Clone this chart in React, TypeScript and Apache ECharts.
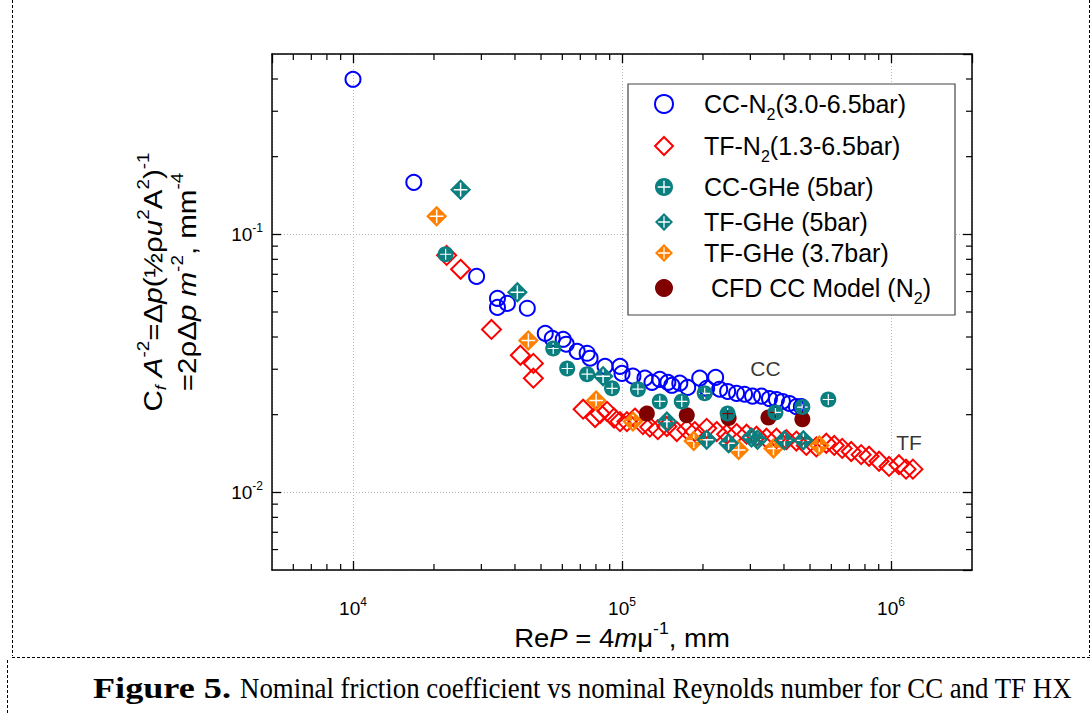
import React, { useEffect, useRef } from 'react';
import * as echarts from 'echarts';

// ---------- axis ranges / ticks ----------
const X_MIN = 5000;
const X_MAX = 2e6;
const Y_MIN = 0.005;
const Y_MAX = 0.5;
const X_MINOR = [6e3, 7e3, 8e3, 9e3, 2e4, 3e4, 4e4, 5e4, 6e4, 7e4, 8e4, 9e4, 2e5, 3e5, 4e5, 5e5, 6e5, 7e5, 8e5, 9e5];
const Y_MINOR = [0.006, 0.007, 0.008, 0.009, 0.02, 0.03, 0.04, 0.05, 0.06, 0.07, 0.08, 0.09, 0.2, 0.3, 0.4];

// ---------- series data [ReP, Cf A^-2] ----------
const CC_N2: number[][] = [
  [10000, 0.399], [16830, 0.159], [28800, 0.0687], [34440, 0.0565], [34440, 0.0521], [37500, 0.054],
  [44460, 0.0517], [51850, 0.0413], [55050, 0.0395], [60460, 0.0392], [62030, 0.0375], [68130, 0.0352],
  [74200, 0.0346], [76100, 0.0331], [86500, 0.0308], [98300, 0.0308], [100000, 0.0289], [109800, 0.0282],
  [121700, 0.0277], [129200, 0.0267], [138200, 0.0274], [148100, 0.0267], [153200, 0.026], [164000, 0.0265],
  [175500, 0.0255], [194500, 0.0277], [222900, 0.0279], [206400, 0.0253], [230700, 0.0251], [247000, 0.0246],
  [266600, 0.0242], [285500, 0.024], [305700, 0.0236], [330000, 0.0236], [353300, 0.0231], [375100, 0.0229],
  [394800, 0.0225], [419000, 0.0221], [444800, 0.0215], [464200, 0.0215],
];
const TF_N2: number[][] = [
  [22290, 0.0829], [25120, 0.0732], [32720, 0.0428], [41900, 0.034], [46820, 0.0316], [46820, 0.0277],
  [71710, 0.021], [79430, 0.0195], [82880, 0.0202], [88000, 0.0206], [93400, 0.0194], [98300, 0.0188],
  [104300, 0.0188], [111700, 0.0194], [119600, 0.0183], [126900, 0.0179], [135900, 0.0175], [146800, 0.018],
  [159800, 0.0172], [174100, 0.0175], [186400, 0.0172], [206400, 0.0177], [224900, 0.0172], [244900, 0.0168],
  [266600, 0.0169], [290400, 0.0168], [316200, 0.0165], [344400, 0.0162], [375100, 0.0162], [408500, 0.016],
  [444800, 0.0158], [484400, 0.0152], [527700, 0.015], [574500, 0.0155], [615100, 0.0152], [658400, 0.0148],
  [711100, 0.0144], [774400, 0.014], [828800, 0.0138], [902700, 0.0132], [983100, 0.0126], [1070000, 0.0128],
  [1137000, 0.0123], [1206000, 0.0123],
];
const CC_GHE: number[][] = [
  [22100, 0.0837], [55510, 0.0361], [62570, 0.0302], [74200, 0.0287], [91830, 0.0253], [114600, 0.0251],
  [138200, 0.0225], [166800, 0.0225], [203000, 0.0242], [247000, 0.0202], [371900, 0.0204], [468200, 0.0214],
  [584600, 0.0229],
];
const TF_GHE_5: number[][] = [
  [25120, 0.149], [40830, 0.0596], [85040, 0.0282], [146800, 0.0188], [206400, 0.016], [249100, 0.0155],
  [303000, 0.0163], [318900, 0.016], [401500, 0.0159], [472200, 0.0159],
];
const TF_GHE_37: number[][] = [
  [20470, 0.1174], [44860, 0.0388], [80120, 0.0227], [109800, 0.0188], [184800, 0.0158], [271300, 0.0146],
  [365600, 0.0148], [541200, 0.0152],
];
const CFD_CC: number[][] = [
  [123700, 0.0202], [174100, 0.0199], [249100, 0.0194], [350300, 0.0195], [468200, 0.0192],
];
const ANNOTATIONS = [
  { name: 'CC', value: [341600, 0.0302] },
  { name: 'TF', value: [1166000, 0.01563] },
];

const NAMES = ['CC-N2(3.0-6.5bar)', 'TF-N2(1.3-6.5bar)', 'CC-GHe (5bar)', 'TF-GHe (5bar)', 'TF-GHe (3.7bar)', 'CFD CC Model (N2)'];
const LEGEND_RICH: Record<string, string> = {
  'CC-N2(3.0-6.5bar)': '{n|CC-N}{sub|2}{n|(3.0-6.5bar)}',
  'TF-N2(1.3-6.5bar)': '{n|TF-N}{sub|2}{n|(1.3-6.5bar)}',
  'CC-GHe (5bar)': '{n|CC-GHe (5bar)}',
  'TF-GHe (5bar)': '{n|TF-GHe (5bar)}',
  'TF-GHe (3.7bar)': '{n|TF-GHe (3.7bar)}',
  'CFD CC Model (N2)': '{n| CFD CC Model (N}{sub|2}{n|)}',
};
const LEGEND_ROW_H = [42, 42, 40, 30, 32, 38];

const SANS = '"Liberation Sans", Arial, sans-serif';
const SERIF = '"Liberation Serif", "Times New Roman", serif';

const DIAMOND = 'path://M0,-10L10,0L0,10L-10,0Z';
const CIRCLE_PLUS =
  'path://M0,-10C5.523,-10,10,-5.523,10,0C10,5.523,5.523,10,0,10C-5.523,10,-10,5.523,-10,0C-10,-5.523,-5.523,-10,0,-10Z' +
  'M-0.75,-7L-0.75,-0.75L-7,-0.75L-7,0.75L-0.75,0.75L-0.75,7L0.75,7L0.75,0.75L7,0.75L7,-0.75L0.75,-0.75L0.75,-7Z';
const DIAMOND_PLUS =
  'path://M0,-10L10,0L0,10L-10,0Z' +
  'M-0.7,-6.5L-0.7,-0.7L-6.5,-0.7L-6.5,0.7L-0.7,0.7L-0.7,6.5L0.7,6.5L0.7,0.7L6.5,0.7L6.5,-0.7L0.7,-0.7L0.7,-6.5Z';

function measure(text: string, font: string): number {
  const c = document.createElement('canvas').getContext('2d');
  if (!c) return text.length * 12;
  c.font = font;
  return c.measureText(text).width;
}

export default function App() {
  const ref = useRef<HTMLDivElement>(null);
  useEffect(() => {
    if (!ref.current) return;
    const chart = echarts.init(ref.current, null, { renderer: 'svg' });

    const tickRich = {
      b: { fontSize: 19, fontFamily: SANS, color: '#000' },
      s: { fontSize: 12, fontFamily: SANS, color: '#000', padding: [0, 0, 12, 0] },
    };
    const expFmt = (v: number) => `{b|10}{s|${Math.round(Math.log10(v))}}`;
    const axisLineStyle = { color: '#000', width: 1.5 };
    const splitLineStyle = { color: '#b8b8b8', width: 1, type: [1, 2] as any };

    const capBold = 'Figure 5.';
    const capReg = 'Nominal friction coefficient vs nominal Reynolds number for CC and TF HX';
    const capSize = 30;
    const wBold = measure(capBold, `bold ${capSize}px "Liberation Serif"`);
    const wReg = measure(capReg, `${capSize}px "Liberation Serif"`);
    const boldScale = wBold > 0 ? 138 / wBold : 1;
    const regScale = wReg > 0 ? 832 / wReg : 1;

    const yTitle =
      '{n|C}{subi|f}{n| }{i|A}{sup|-2}{n|=Δ}{i|p}{n|(½ρ}{i|u}{sup|2}{n|A}{sup|2}{n|)}{sup|-1}' +
      '\n' +
      '{n|=2ρΔ}{i|p}{n| }{i|m}{sup|-2}{n|, mm}{sup|-4}';
    const titleRich = {
      n: { fontSize: 25, fontFamily: SANS, color: '#000' },
      i: { fontSize: 25, fontFamily: SANS, fontStyle: 'italic', color: '#000' },
      sup: { fontSize: 16, fontFamily: SANS, color: '#000', padding: [0, 0, 18, 0] },
      subi: { fontSize: 15, fontFamily: SANS, fontStyle: 'italic', color: '#000', padding: [16, 0, 0, 0] },
    };
    const xTitle = '{n|Re}{i|P}{n| = 4}{i|m}{n|μ}{sup|-1}{n|, mm}';
    const xTitleRich = {
      n: { fontSize: 25, fontFamily: SANS, color: '#000' },
      i: { fontSize: 25, fontFamily: SANS, fontStyle: 'italic', color: '#000' },
      sup: { fontSize: 16, fontFamily: SANS, color: '#000', padding: [0, 0, 18, 0] },
    };

    const dashStyle = { stroke: '#000', lineWidth: 1, lineDash: [3, 2] };
    const tickStyle = { color: '#000', width: 1.3 };

    const option: any = {
      animation: false,
      backgroundColor: '#fff',
      grid: { left: 272, top: 54, right: 120, bottom: 143, containLabel: false },
      xAxis: [
        {
          type: 'log', logBase: 10, min: X_MIN, max: X_MAX, position: 'bottom',
          axisLine: { show: true, lineStyle: axisLineStyle },
          axisTick: { show: true, inside: true, length: 9, lineStyle: tickStyle },
          minorTick: { show: false },
          splitLine: { show: true, lineStyle: splitLineStyle },
          axisLabel: { show: true, margin: 26, showMinLabel: false, showMaxLabel: false, formatter: expFmt, rich: tickRich },
        },
        {
          type: 'log', logBase: 10, min: X_MIN, max: X_MAX, position: 'top',
          axisLine: { show: true, lineStyle: axisLineStyle },
          axisTick: { show: true, inside: true, length: 9, lineStyle: tickStyle },
          splitLine: { show: false }, axisLabel: { show: false },
        },
      ],
      yAxis: [
        {
          type: 'log', logBase: 10, min: Y_MIN, max: Y_MAX, position: 'left',
          axisLine: { show: true, lineStyle: axisLineStyle },
          axisTick: { show: true, inside: true, length: 9, lineStyle: tickStyle },
          splitLine: { show: true, lineStyle: splitLineStyle },
          axisLabel: { show: true, margin: 9, showMinLabel: false, showMaxLabel: false, formatter: expFmt, rich: tickRich },
        },
        {
          type: 'log', logBase: 10, min: Y_MIN, max: Y_MAX, position: 'right',
          axisLine: { show: true, lineStyle: axisLineStyle },
          axisTick: { show: true, inside: true, length: 9, lineStyle: tickStyle },
          splitLine: { show: false }, axisLabel: { show: false },
        },
      ],
      legend: {
        show: true, orient: 'vertical', left: 654, top: 83, padding: 0, itemGap: 0,
        itemWidth: 70, itemHeight: 18, z: 10, symbolKeepAspect: true,
        selectedMode: false,
        data: NAMES.map((name, i) => ({ name, textStyle: { lineHeight: LEGEND_ROW_H[i] } })),
        formatter: (name: string) => LEGEND_RICH[name] || name,
        textStyle: {
          fontSize: 25, fontFamily: SANS, color: '#000',
          rich: {
            n: { fontSize: 25, fontFamily: SANS, color: '#000' },
            sub: { fontSize: 16, fontFamily: SANS, color: '#000', padding: [21, 0, 0, 0] },
          },
        },
      },
      graphic: [
        { type: 'rect', z: 8, shape: { x: 628, y: 84, width: 327, height: 231 }, style: { fill: '#fff', stroke: '#444', lineWidth: 1.2 } },
        {
          type: 'text', x: 170, y: 282, rotation: Math.PI / 2, scaleX: 1.18, z: 10,
          style: { text: yTitle, rich: titleRich, align: 'center', verticalAlign: 'middle', fontSize: 25, fontFamily: SANS, lineHeight: 34, fill: '#000' },
        },
        {
          type: 'text', x: 622, y: 638, scaleX: 1.1, z: 10,
          style: { text: xTitle, rich: xTitleRich, align: 'center', verticalAlign: 'middle', fontSize: 25, fontFamily: SANS, fill: '#000' },
        },
        {
          type: 'text', x: 93, y: 688, scaleX: boldScale, z: 10,
          style: { text: capBold, align: 'left', verticalAlign: 'middle', fontSize: capSize, fontWeight: 'bold', fontFamily: SERIF, fill: '#000' },
        },
        {
          type: 'text', x: 240, y: 688, scaleX: regScale, z: 10,
          style: { text: capReg, align: 'left', verticalAlign: 'middle', fontSize: capSize, fontFamily: SERIF, fill: '#000' },
        },
        { type: 'line', shape: { x1: 12.5, y1: 0, x2: 12.5, y2: 656 }, style: dashStyle },
        { type: 'line', shape: { x1: 1089.5, y1: 0, x2: 1089.5, y2: 656 }, style: dashStyle },
        { type: 'line', shape: { x1: 12, y1: 657.5, x2: 1092, y2: 657.5 }, style: dashStyle },
        { type: 'line', shape: { x1: 7.5, y1: 660, x2: 7.5, y2: 713 }, style: dashStyle },
      ],
      series: [
        {
          type: 'custom', name: 'xMinor', silent: true, z: 5, xAxisIndex: 0, yAxisIndex: 0,
          data: X_MINOR.map((v) => [v, Y_MIN]),
          renderItem: (_p: any, api: any) => {
            const v = api.value(0);
            const b = api.coord([v, Y_MIN]);
            const t = api.coord([v, Y_MAX]);
            const st = { stroke: '#000', lineWidth: 1.2 };
            return {
              type: 'group',
              children: [
                { type: 'line', shape: { x1: b[0], y1: b[1], x2: b[0], y2: b[1] - 6 }, style: st },
                { type: 'line', shape: { x1: t[0], y1: t[1], x2: t[0], y2: t[1] + 6 }, style: st },
              ],
            };
          },
        },
        {
          type: 'custom', name: 'yMinor', silent: true, z: 5, xAxisIndex: 0, yAxisIndex: 0,
          data: Y_MINOR.map((v) => [X_MIN, v]),
          renderItem: (_p: any, api: any) => {
            const v = api.value(1);
            const l = api.coord([X_MIN, v]);
            const r = api.coord([X_MAX, v]);
            const st = { stroke: '#000', lineWidth: 1.2 };
            return {
              type: 'group',
              children: [
                { type: 'line', shape: { x1: l[0], y1: l[1], x2: l[0] + 6, y2: l[1] }, style: st },
                { type: 'line', shape: { x1: r[0], y1: r[1], x2: r[0] - 6, y2: r[1] }, style: st },
              ],
            };
          },
        },
        {
          type: 'scatter', name: NAMES[0], data: CC_N2, symbol: 'circle', symbolSize: 15, symbolKeepAspect: true,
          itemStyle: { color: 'rgba(255,255,255,0)', borderColor: '#0000ff', borderWidth: 2, opacity: 1 },
        },
        {
          type: 'scatter', name: NAMES[1], data: TF_N2, symbol: DIAMOND, symbolSize: 19, symbolKeepAspect: true,
          itemStyle: { color: 'rgba(255,255,255,0)', borderColor: '#ff0000', borderWidth: 2, opacity: 1 },
        },
        {
          type: 'scatter', name: NAMES[5], data: CFD_CC, symbol: 'circle', symbolSize: 16, symbolKeepAspect: true,
          itemStyle: { color: '#800000', opacity: 1 },
        },
        {
          type: 'scatter', name: NAMES[4], data: TF_GHE_37, symbol: DIAMOND_PLUS, symbolSize: 21, symbolKeepAspect: true,
          itemStyle: { color: '#ff8000', opacity: 1 },
        },
        {
          type: 'scatter', name: NAMES[3], data: TF_GHE_5, symbol: DIAMOND_PLUS, symbolSize: 21, symbolKeepAspect: true,
          itemStyle: { color: '#0b7f7f', opacity: 1 },
        },
        {
          type: 'scatter', name: NAMES[2], data: CC_GHE, symbol: CIRCLE_PLUS, symbolSize: 16, symbolKeepAspect: true,
          itemStyle: { color: '#0b7f7f', opacity: 1 },
        },
        {
          type: 'scatter', name: 'annotations', data: ANNOTATIONS, symbolSize: 1, silent: true,
          itemStyle: { color: 'rgba(0,0,0,0)' },
          label: { show: true, position: 'inside', formatter: '{b}', fontSize: 21, fontFamily: SANS, color: '#000' },
        },
      ],
    };
    chart.setOption(option);
    return () => chart.dispose();
  }, []);
  return <div ref={ref} style={{ position: 'fixed', left: 0, top: 0, width: 1092, height: 713, background: '#fff' }} />;
}
